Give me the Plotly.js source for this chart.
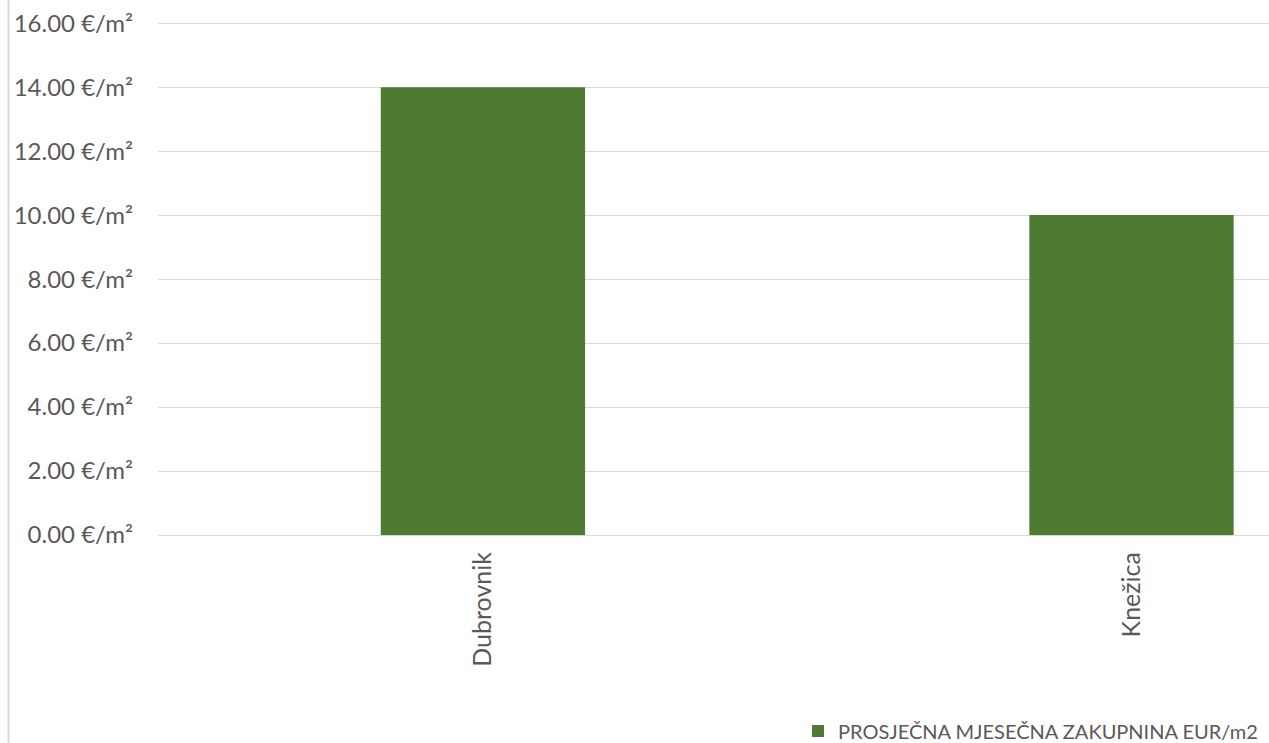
<!DOCTYPE html>
<html>
<head>
<meta charset="utf-8">
<script src="https://cdn.plot.ly/plotly-3.0.1.min.js"></script>
<style>html,body{margin:0;padding:0;background:#fff;}#chart{width:1269px;height:743px;}</style>
</head>
<body>
<div id="chart"></div>
<script>
const categories = ["Dubrovnik", "Knežica"];
const values = [14, 10];
const seriesName = "PROSJEČNA MJESEČNA ZAKUPNINA EUR/m2";
const tickValues = [0, 2, 4, 6, 8, 10, 12, 14, 16];
const tickLabels = ["0.00 €/m²", "2.00 €/m²", "4.00 €/m²", "6.00 €/m²", "8.00 €/m²", "10.00 €/m²", "12.00 €/m²", "14.00 €/m²", "16.00 €/m²"];

const W = 1269, H = 743, L = 158, T = 20, B = 208;
const pw = W - L, ph = H - T - B;

const trace = {
  type: "bar",
  x: categories,
  y: values,
  name: seriesName,
  marker: {color: "#4E7A31"},
  showlegend: true,
  hoverinfo: "none"
};

const layout = {
  width: W, height: H,
  margin: {l: L, r: 0, t: T, b: B, pad: 0, autoexpand: false},
  paper_bgcolor: "#ffffff",
  plot_bgcolor: "#ffffff",
  font: {family: "Lato, 'Open Sans', sans-serif", color: "#595959", size: 24},
  bargap: 0.685,
  xaxis: {
    type: "category",
    range: [-0.501, 1.212],
    tickangle: -90,
    automargin: false,
    showgrid: false,
    zeroline: false,
    showline: true,
    linecolor: "#d9d9d9",
    linewidth: 1,
    ticks: "",
    ticklabelstandoff: 6,
    tickfont: {size: 25, color: "#595959"}
  },
  yaxis: {
    range: [0, 16.1],
    tickvals: tickValues,
    ticktext: tickLabels,
    automargin: false,
    showgrid: true,
    gridcolor: "#d9d9d9",
    gridwidth: 1,
    zeroline: false,
    showline: false,
    ticks: "",
    ticklabelstandoff: 24,
    tickfont: {size: 24, color: "#595959"}
  },
  legend: {
    orientation: "h",
    xref: "container",
    yref: "container",
    x: 798 / W,
    xanchor: "left",
    y: 1 - 731 / H,
    yanchor: "middle",
    font: {size: 20, color: "#595959"},
    bgcolor: "rgba(0,0,0,0)"
  },
  shapes: [{
    type: "line", xref: "paper", yref: "paper",
    x0: (8.5 - L) / pw, x1: (8.5 - L) / pw,
    y0: -B / ph, y1: 1 + T / ph,
    line: {color: "#d9d9d9", width: 2}
  }]
};

Plotly.newPlot("chart", [trace], layout, {displayModeBar: false, staticPlot: true});
</script>
</body>
</html>
